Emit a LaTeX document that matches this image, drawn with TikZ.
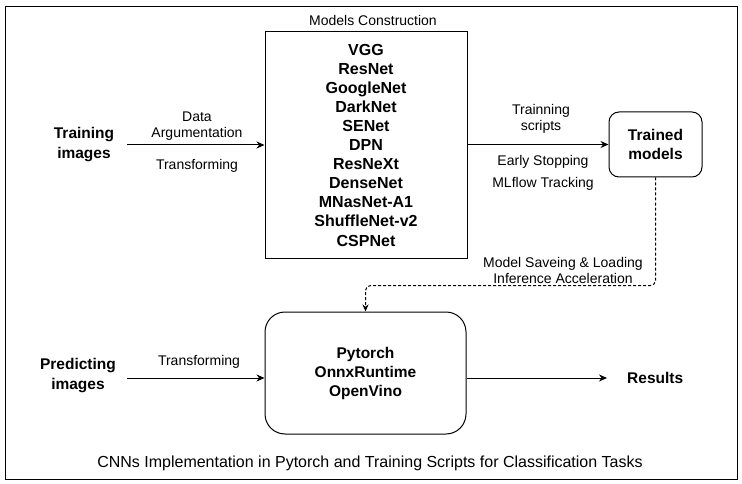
\documentclass[tikz,border=0pt]{standalone}
\usepackage{fontspec}
\setmainfont{Liberation Sans}
\usetikzlibrary{arrows.meta}
\begin{document}
\begin{tikzpicture}[x=1pt,y=-1pt,
  box/.style={draw,line width=1pt,inner sep=0pt,align=center},
  big/.style={font=\fontsize{15.5}{19}\selectfont\bfseries,align=center,inner sep=0pt},
  lbl/.style={font=\fontsize{14}{16}\selectfont,align=center,inner sep=0pt},
  arr/.style={line width=1pt,-{Stealth[length=8pt,width=7pt]}},
  dashline/.style={line width=1pt,dash pattern=on 3pt off 2pt,rounded corners=5pt,-{Stealth[length=7pt,width=6pt]}}]
\useasboundingbox (0,0) rectangle (742,484);
\node[draw,line width=1pt,minimum width=732pt,minimum height=472pt,inner sep=0pt] (frame) at (371,243) {};
% models construction
\node[box,minimum width=202pt,minimum height=226pt,font=\fontsize{16}{19.1}\selectfont\bfseries] (models) at (366,145)
  {VGG\\ResNet\\GoogleNet\\DarkNet\\SENet\\DPN\\ResNeXt\\DenseNet\\MNasNet-A1\\ShuffleNet-v2\\CSPNet};
\node[lbl] (mc) at (373,20) {Models Construction};
% training images
\node[big,font=\fontsize{15.5}{20}\selectfont\bfseries,minimum width=86pt] (train) at (84,145) {Training\\images};
% trained models
\node[box,rounded corners=10pt,minimum width=93pt,minimum height=65pt,font=\fontsize{15.5}{19}\selectfont\bfseries] (trained) at (655.5,144.5) {Trained\\models};
% predictor box
\node[box,rounded corners=20pt,minimum width=201pt,minimum height=122pt,font=\fontsize{15.5}{19}\selectfont\bfseries] (pred) at (365.5,373) {Pytorch\\OnnxRuntime\\OpenVino};
\node[big,font=\fontsize{15.5}{20}\selectfont\bfseries,minimum width=98pt] (predimg) at (78,376) {Predicting\\images};
\node[big,anchor=west] (results) at (627,378) {Results};
% caption
\node[lbl,font=\fontsize{16}{18}\selectfont] (cap) at (370,463) {CNNs Implementation in Pytorch and Training Scripts for Classification Tasks};
% labels
\node[lbl] (la) at (197,126) {Data\\Argumentation};
\node[lbl] (lb) at (197,166) {Transforming};
\node[lbl] (lc) at (541,119) {Trainning\\scripts};
\node[lbl] (ld) at (543,162) {Early Stopping};
\node[lbl] (le) at (543,184) {MLflow Tracking};
\node[lbl] (lf) at (563,270) {Model Saveing \& Loading\\Inference Acceleration};
\node[lbl] (lg) at (199,362) {Transforming};
% connectors
\draw[arr] (train.east) -- (train.east -| models.west);
\draw[arr] (models.east |- trained.west) -- (trained.west);
\draw[arr] (predimg.east |- results.west) -- (pred.west |- results.west);
\draw[arr] (pred.east |- results.west) -- ([xshift=-20pt]results.west);
\draw[dashline] (trained.south) -- ++(0,108) -| (pred.north);
\end{tikzpicture}
\end{document}
